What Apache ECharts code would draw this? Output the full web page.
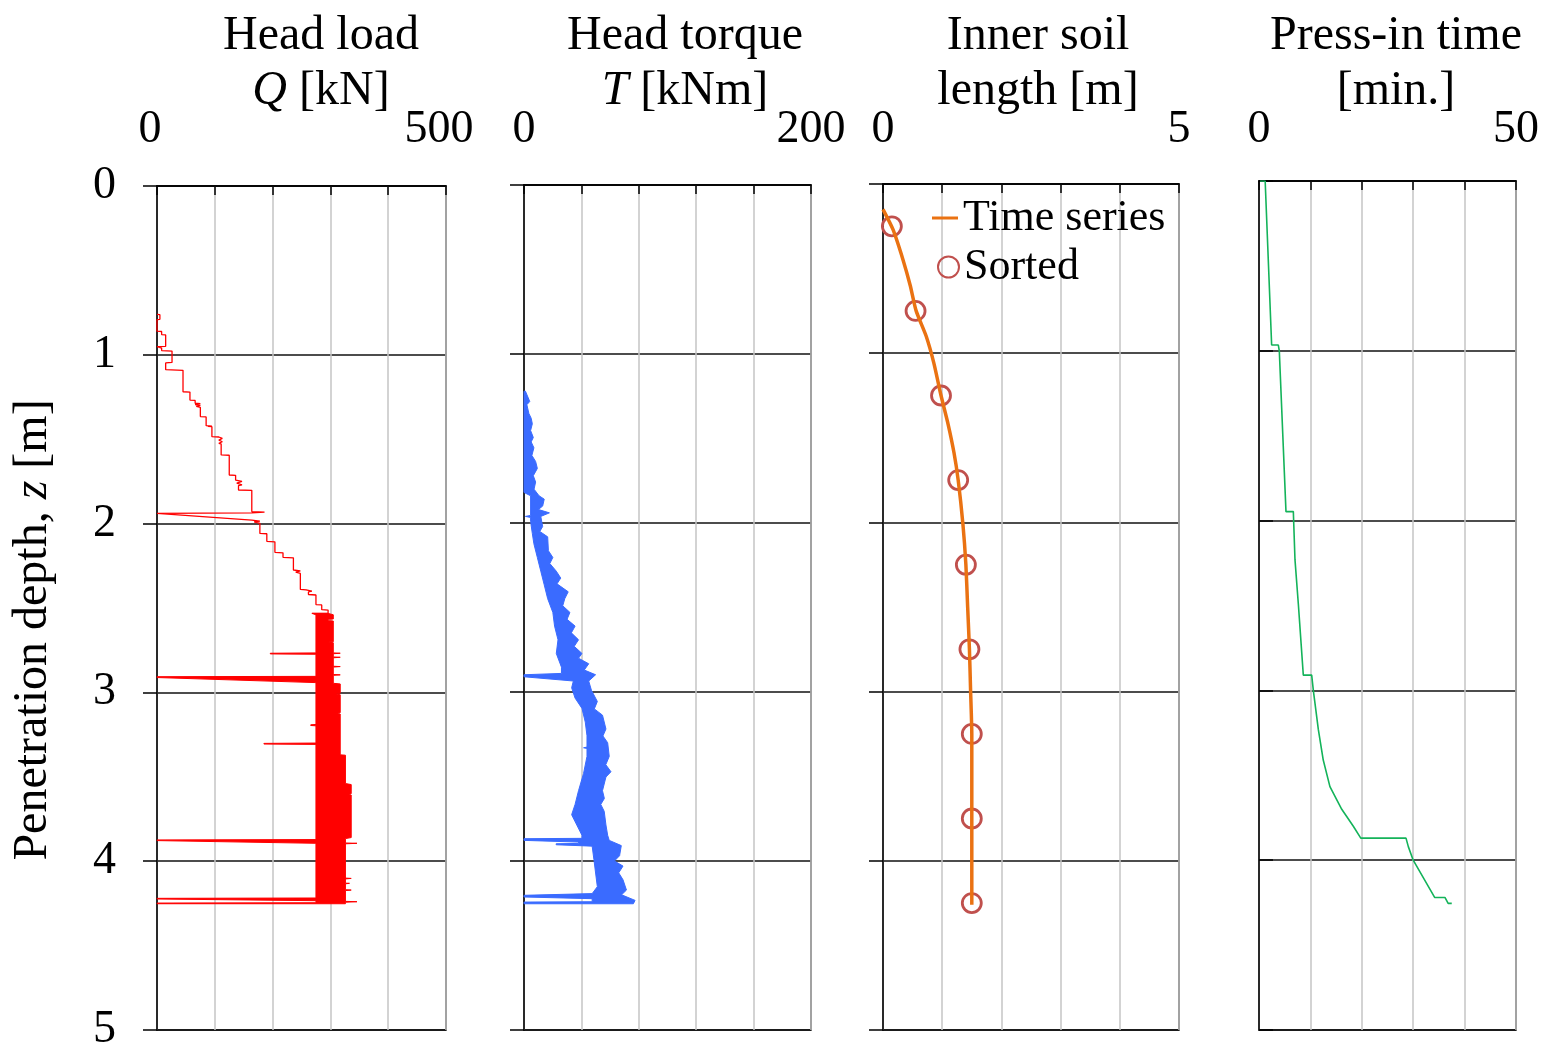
<!DOCTYPE html>
<html>
<head>
<meta charset="utf-8">
<script src="https://cdn.jsdelivr.net/npm/echarts@6/dist/echarts.min.js"></script>
<style>
  html, body { margin: 0; padding: 0; background: #ffffff; }
  #chart { width: 1545px; height: 1046px; }
</style>
</head>
<body>
<div id="chart"></div>
<script>
// Pile press-in record against penetration depth z [m]; every pair is [depth, value].

// Head load Q [kN]: stepped record before the steady stage
const loadTrace = [
  [0.760, 0], [0.762, 5], [0.790, 5], [0.792, 0],
  [0.860, 0], [0.862, 8], [0.880, 8], [0.882, 15], [0.950, 15], [0.952, 0],
  [0.960, 8], [0.975, 8], [0.978, 26], [1.045, 26], [1.048, 15], [1.088, 15],
  [1.092, 45], [1.219, 45], [1.221, 57], [1.268, 57], [1.270, 66], [1.287, 66],
  [1.289, 75], [1.295, 66], [1.300, 75], [1.305, 68], [1.311, 75], [1.366, 75],
  [1.368, 85], [1.420, 85], [1.422, 95], [1.424, 88], [1.426, 95], [1.485, 95],
  [1.487, 107], [1.495, 113], [1.505, 107], [1.515, 113], [1.524, 107], [1.528, 111],
  [1.593, 111], [1.595, 125], [1.712, 125], [1.714, 136], [1.742, 136], [1.750, 147],
  [1.760, 138], [1.771, 147], [1.775, 141], [1.801, 141], [1.803, 164], [1.929, 164],
  [1.932, 186], [1.936, 164], [1.940, 0], [1.945, 0], [1.979, 164], [1.985, 178],
  [1.990, 168], [1.998, 178], [2.058, 178], [2.060, 190], [2.105, 190], [2.108, 204],
  [2.170, 204], [2.173, 218], [2.200, 218], [2.203, 236], [2.275, 236], [2.280, 248],
  [2.288, 240], [2.295, 248], [2.390, 248], [2.393, 258], [2.400, 268], [2.405, 262],
  [2.420, 262], [2.423, 275], [2.480, 275], [2.482, 285], [2.510, 285], [2.512, 296],
  [2.530, 296], [2.532, 268]
];

// Head load Q [kN]: lower and upper edges of the fluctuating record
const loadBandLow = [
  [2.532, 268], [2.540, 275], [2.766, 275], [2.768, 196], [2.772, 196], [2.774, 275],
  [2.905, 275], [2.907, 0], [2.912, 0], [2.942, 275], [3.190, 275], [3.192, 266],
  [3.196, 266], [3.198, 275], [3.300, 275], [3.302, 185], [3.306, 185], [3.308, 275],
  [3.872, 275], [3.874, 0], [3.878, 0], [3.894, 275], [4.218, 275], [4.220, 0],
  [4.224, 0], [4.234, 275], [4.246, 275], [4.248, 0], [4.252, 0]
];
const loadBandHigh = [
  [2.532, 296], [2.540, 305], [2.565, 305], [2.567, 296], [2.575, 296], [2.577, 305],
  [2.700, 305], [2.702, 296], [2.706, 305], [2.766, 305], [2.768, 317], [2.771, 305],
  [2.790, 305], [2.792, 317], [2.795, 305], [2.845, 305], [2.847, 317], [2.850, 305],
  [2.894, 305], [2.896, 317], [2.899, 305], [2.946, 305], [2.950, 317], [3.005, 317],
  [3.010, 310], [3.014, 317], [3.120, 317], [3.124, 310], [3.128, 317], [3.370, 317],
  [3.372, 326], [3.540, 326], [3.546, 336], [3.600, 336], [3.604, 330], [3.608, 336],
  [3.860, 336], [3.866, 326], [3.892, 326], [3.894, 346], [3.897, 326], [4.100, 326],
  [4.102, 336], [4.105, 326], [4.130, 326], [4.131, 333], [4.134, 326], [4.169, 326],
  [4.171, 336], [4.174, 326], [4.238, 326], [4.240, 346], [4.243, 326], [4.252, 326]
];

// Head torque T [kNm]: lower and upper edges of the fluctuating record
const torqueBandLow = [
  [1.220, 0], [1.819, 0], [1.839, 4.6], [1.955, 4.6], [1.961, 1.0], [1.967, 4.6],
  [1.991, 4.6], [2.062, 5.8], [2.123, 6.9], [2.204, 9.3], [2.285, 11.7], [2.366, 14.1],
  [2.448, 16.5], [2.529, 20.1], [2.610, 21.3], [2.691, 23.7], [2.772, 22.5], [2.853, 26.1],
  [2.890, 26.1], [2.898, 0], [2.910, 0], [2.935, 34.4], [2.975, 33.2], [3.036, 35.6],
  [3.097, 40.4], [3.178, 42.7], [3.259, 43.9], [3.326, 43.9], [3.330, 41.5], [3.334, 43.9],
  [3.381, 43.9], [3.482, 41.5], [3.584, 38.0], [3.665, 35.6], [3.726, 33.2], [3.787, 36.8],
  [3.848, 40.4], [3.866, 40.4], [3.868, 0], [3.878, 0], [3.888, 38.0], [3.896, 38.0],
  [3.898, 22.4], [3.904, 22.4], [3.912, 47.5], [3.990, 48.7], [4.071, 49.9], [4.152, 51.1],
  [4.193, 47.5], [4.203, 0], [4.213, 0], [4.223, 47.5], [4.241, 47.5], [4.243, 0], [4.253, 0]
];
const torqueBandHigh = [
  [1.220, 1.0], [1.281, 4.0], [1.300, 2.0], [1.352, 3.4], [1.380, 5.0], [1.413, 5.8],
  [1.453, 4.6], [1.494, 6.5], [1.520, 5.0], [1.555, 6.9], [1.600, 5.5], [1.636, 8.1],
  [1.677, 9.3], [1.720, 6.5], [1.758, 8.1], [1.800, 7.0], [1.839, 10.5], [1.859, 14.1],
  [1.900, 13.0], [1.920, 10.0], [1.940, 17.7], [1.961, 11.7], [2.021, 13.0], [2.050, 11.0],
  [2.082, 16.5], [2.164, 17.0], [2.204, 20.1], [2.240, 18.0], [2.285, 22.5], [2.326, 25.6],
  [2.360, 23.0], [2.407, 30.8], [2.448, 28.4], [2.490, 27.0], [2.529, 32.0], [2.570, 30.0],
  [2.610, 35.6], [2.650, 33.0], [2.691, 38.0], [2.730, 35.0], [2.772, 40.4], [2.800, 38.0],
  [2.833, 45.1], [2.870, 42.0], [2.898, 49.9], [2.935, 45.1], [2.990, 47.0], [3.056, 51.1],
  [3.100, 49.0], [3.137, 54.7], [3.219, 57.1], [3.260, 55.0], [3.300, 58.3], [3.381, 59.4],
  [3.430, 57.0], [3.472, 60.6], [3.503, 57.1], [3.584, 54.7], [3.630, 56.0], [3.665, 53.5],
  [3.706, 55.9], [3.787, 57.1], [3.848, 58.3], [3.878, 59.4], [3.909, 67.8], [3.969, 66.6],
  [4.000, 63.0], [4.030, 69.0], [4.070, 66.0], [4.111, 69.0], [4.172, 71.4], [4.200, 68.0],
  [4.233, 77.4], [4.253, 76.2]
];

// Inner soil length [m]
const soilTimeSeries = [
  [0.15, 0.00], [0.27, 0.17], [0.45, 0.34], [0.60, 0.46], [0.75, 0.56], [0.90, 0.73],
  [1.06, 0.86], [1.25, 0.98], [1.42, 1.10], [1.59, 1.20], [1.75, 1.27], [2.01, 1.35],
  [2.25, 1.40], [2.50, 1.43], [2.75, 1.46], [3.00, 1.48], [3.25, 1.50], [3.50, 1.50],
  [3.75, 1.50], [4.00, 1.50], [4.26, 1.50]
];
const soilSorted = [
  [0.25, 0.15], [0.75, 0.55], [1.25, 0.98], [1.75, 1.27], [2.25, 1.40],
  [2.75, 1.46], [3.25, 1.50], [3.75, 1.50], [4.25, 1.50]
];

// Press-in time [min.]
const pressTime = [
  [0.000, 0.2], [0.000, 1.2], [0.966, 2.46], [0.966, 3.76], [1.000, 3.95], [1.947, 5.25],
  [1.947, 6.68], [2.230, 7.00], [2.490, 7.65], [2.910, 8.62], [2.910, 10.25], [3.000, 10.57],
  [3.230, 11.54], [3.410, 12.50], [3.567, 13.80], [3.700, 16.10], [3.800, 18.35], [3.870, 19.80],
  [3.870, 28.60], [3.920, 29.05], [4.000, 30.00], [4.220, 34.20], [4.220, 36.20], [4.254, 36.80],
  [4.254, 37.50]
];

// Axis ranges and headings
const depthTicks = [0, 1, 2, 3, 4, 5];
const panelMax = [500, 200, 5, 50];
const panelStep = [100, 40, 1, 10];
const panelTitles = ['Head load\n{i|Q} [kN]', 'Head torque\n{i|T} [kNm]', 'Inner soil\nlength [m]', 'Press-in time\n[min.]'];
const legendNames = ['Time series', 'Sorted'];

const FONT = '"Liberation Serif", "Times New Roman", serif';
const grids = [
  { left: 157, top: 186, width: 289, height: 844 },
  { left: 524, top: 185, width: 287, height: 845 },
  { left: 883, top: 184, width: 296, height: 846 },
  { left: 1259, top: 181, width: 257, height: 849 }
];
const titleX = [316, 680, 1033, 1391];
const labelMargin = [33, 32, 31, 28];

const asXY = pairs => pairs.map(p => [p[1], p[0]]);

function bandSeries(idx, low, high, color) {
  const outline = low.concat(high.slice().reverse());
  return {
    type: 'custom',
    xAxisIndex: idx, yAxisIndex: idx,
    silent: true,
    data: [[0, 0]],
    renderItem: function (params, api) {
      return {
        type: 'polygon',
        shape: { points: outline.map(p => api.coord([p[1], p[0]])) },
        style: { fill: color, stroke: color, lineWidth: 1 }
      };
    }
  };
}

const chart = echarts.init(document.getElementById('chart'), null, { renderer: 'canvas' });

const option = {
  animation: false,
  backgroundColor: '#ffffff',
  title: panelTitles.map((t, i) => ({
    text: t,
    left: titleX[i],
    top: 4,
    textAlign: 'center',
    textStyle: {
      fontFamily: FONT, fontSize: 48, fontWeight: 'normal', color: '#000', lineHeight: 55,
      rich: { i: { fontFamily: FONT, fontSize: 48, fontStyle: 'italic', color: '#000', lineHeight: 55 } }
    }
  })),
  legend: [
    {
      data: [legendNames[0]], left: 932, top: 193, padding: 0, icon: 'rect', itemWidth: 26, itemHeight: 3,
      selectedMode: false,
      textStyle: { fontFamily: FONT, fontSize: 44, color: '#000', lineHeight: 50 }
    },
    {
      data: [legendNames[1]], left: 937, top: 242, padding: 0, icon: 'circle', itemWidth: 21, itemHeight: 21,
      selectedMode: false,
      textStyle: { fontFamily: FONT, fontSize: 44, color: '#000', lineHeight: 50 }
    }
  ],
  grid: grids.map(g => Object.assign({
    show: true, borderColor: '#000', borderWidth: 1.5, containLabel: false, outerBoundsMode: 'none'
  }, g)),
  xAxis: panelMax.map((mx, i) => ({
    type: 'value', gridIndex: i, position: 'top',
    min: 0, max: mx, interval: panelStep[i],
    axisLine: { show: true, lineStyle: { color: '#000', width: 1.5 } },
    axisTick: { show: true, inside: true, length: 9, lineStyle: { color: '#000', width: 1.5 } },
    splitLine: { show: true, lineStyle: { color: '#c4c4c4', width: 1.5 } },
    axisLabel: {
      show: true, margin: labelMargin[i], fontFamily: FONT, fontSize: 46, color: '#000',
      padding: i === 0 ? [0, 14, 0, 0] : 0,
      formatter: v => (v === 0 || v === mx) ? String(v) : ''
    }
  })),
  yAxis: panelMax.map((mx, i) => ({
    type: 'value', gridIndex: i, inverse: true,
    min: depthTicks[0], max: depthTicks[depthTicks.length - 1], interval: 1,
    axisLine: { show: true, onZero: false, lineStyle: { color: '#000', width: 1.5 } },
    axisTick: { show: true, inside: i === 3, length: 14, lineStyle: { color: '#000', width: 1.5 } },
    splitLine: { show: true, lineStyle: { color: '#111', width: 1.5 } },
    axisLabel: { show: i === 0, margin: 41, fontFamily: FONT, fontSize: 46, color: '#000' },
    name: i === 0 ? 'Penetration depth, {i|z} [m]' : '',
    nameLocation: 'middle', nameGap: 100, nameRotate: 90,
    nameTextStyle: {
      fontFamily: FONT, fontSize: 48, color: '#000', padding: [0, 44, 0, 0],
      rich: { i: { fontFamily: FONT, fontSize: 48, fontStyle: 'italic', color: '#000' } }
    }
  })),
  series: [
    bandSeries(0, loadBandLow, loadBandHigh, '#ff0000'),
    {
      name: 'Head load', type: 'line', xAxisIndex: 0, yAxisIndex: 0,
      data: asXY(loadTrace), symbol: 'none', silent: true,
      lineStyle: { color: '#ff0000', width: 1.3 }
    },
    bandSeries(1, torqueBandLow, torqueBandHigh, '#3a6bff'),
    {
      name: legendNames[0], type: 'line', xAxisIndex: 2, yAxisIndex: 2,
      data: asXY(soilTimeSeries), symbol: 'none', smooth: 0.2, silent: true,
      itemStyle: { color: '#ea7212' },
      lineStyle: { color: '#ea7212', width: 3.5 }
    },
    {
      name: legendNames[1], type: 'scatter', xAxisIndex: 2, yAxisIndex: 2,
      data: asXY(soilSorted), symbol: 'circle', symbolSize: 19, silent: true,
      itemStyle: { color: 'rgba(255,255,255,0)', borderColor: '#c0504d', borderWidth: 2.8, opacity: 1 }
    },
    {
      name: 'Press-in time', type: 'line', xAxisIndex: 3, yAxisIndex: 3,
      data: asXY(pressTime), symbol: 'none', silent: true,
      lineStyle: { color: '#14b35a', width: 1.6 }
    }
  ]
};

chart.setOption(option);
</script>
</body>
</html>
